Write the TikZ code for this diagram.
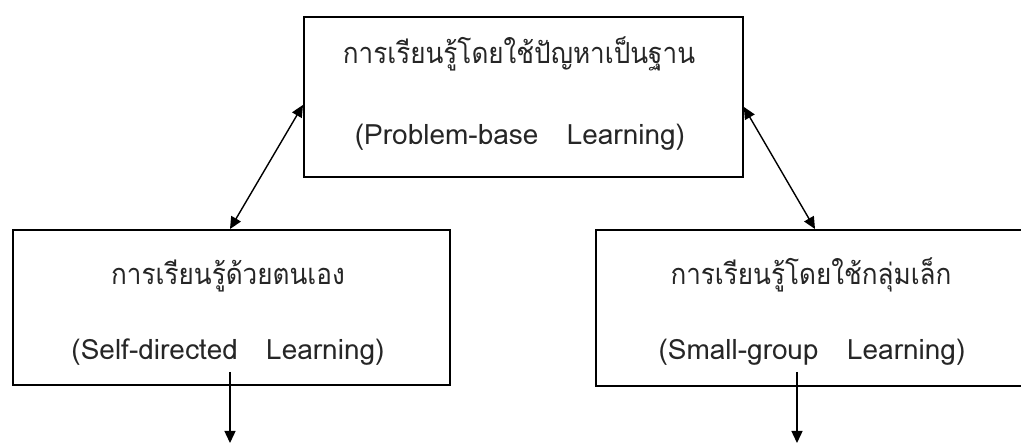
\documentclass[tikz,border=0pt]{standalone}
\usepackage{fontspec}
\newfontfamily\thaifont[Script=Thai]{Loma}
\newfontfamily\thainarrow[Script=Thai,FakeStretch=0.9]{Loma}
\usetikzlibrary{arrows.meta}
\begin{document}
\begin{tikzpicture}[x=1pt,y=-1pt,
  box/.style={draw,line width=1.8pt,rectangle,inner sep=0pt,anchor=north west},
  lbl/.style={anchor=base,inner sep=0pt,text=black!85},
  th/.style={lbl,font=\thainarrow\fontsize{29}{32}\selectfont},
  en/.style={lbl,font=\thaifont\fontsize{28}{32}\selectfont},
  link/.style={line width=1.4pt,-{Triangle[length=12pt,width=11pt]}},
  dlink/.style={line width=1.4pt,{Triangle[length=12pt,width=11pt]}-{Triangle[length=12pt,width=11pt]}}]
\useasboundingbox (0,0) rectangle (1021,443);
% the three boxes
\node[box,minimum width=439pt,minimum height=160pt] (top) at (303,16) {};
\node[box,minimum width=437pt,minimum height=155pt] (lbox) at (12,229) {};
\node[box,minimum width=437pt,minimum height=156pt] (rbox) at (595,229) {};
% their texts
\node[th] (t1) at (519,64) {การเรียนรู้โดยใช้ปัญหาเป็นฐาน};
\node[en] (t2) at (520,145) {(Problem-base\ \ \ Learning)};
\node[th] (l1) at (228,285) {การเรียนรู้ด้วยตนเอง};
\node[en] (l2) at (228,360) {(Self-directed\ \ \ Learning)};
\node[th] (r1) at (811,285) {การเรียนรู้โดยใช้กลุ่มเล็ก};
\node[en] (r2) at (812,360) {(Small-group\ \ \ Learning)};
% loose ends of the outgoing arrows
\coordinate (lout) at (230,443);
\coordinate (rout) at (797,443);
% connectors
\draw[dlink] (lbox.north -| 230,0) -- ([yshift=-8pt]top.west);
\draw[dlink] ([yshift=-10pt]top.east) -- (rbox.north -| 815,0);
\draw[link] (lout |- 0,372) -- (lout);
\draw[link] (rout |- 0,372) -- (rout);
\end{tikzpicture}
\end{document}
